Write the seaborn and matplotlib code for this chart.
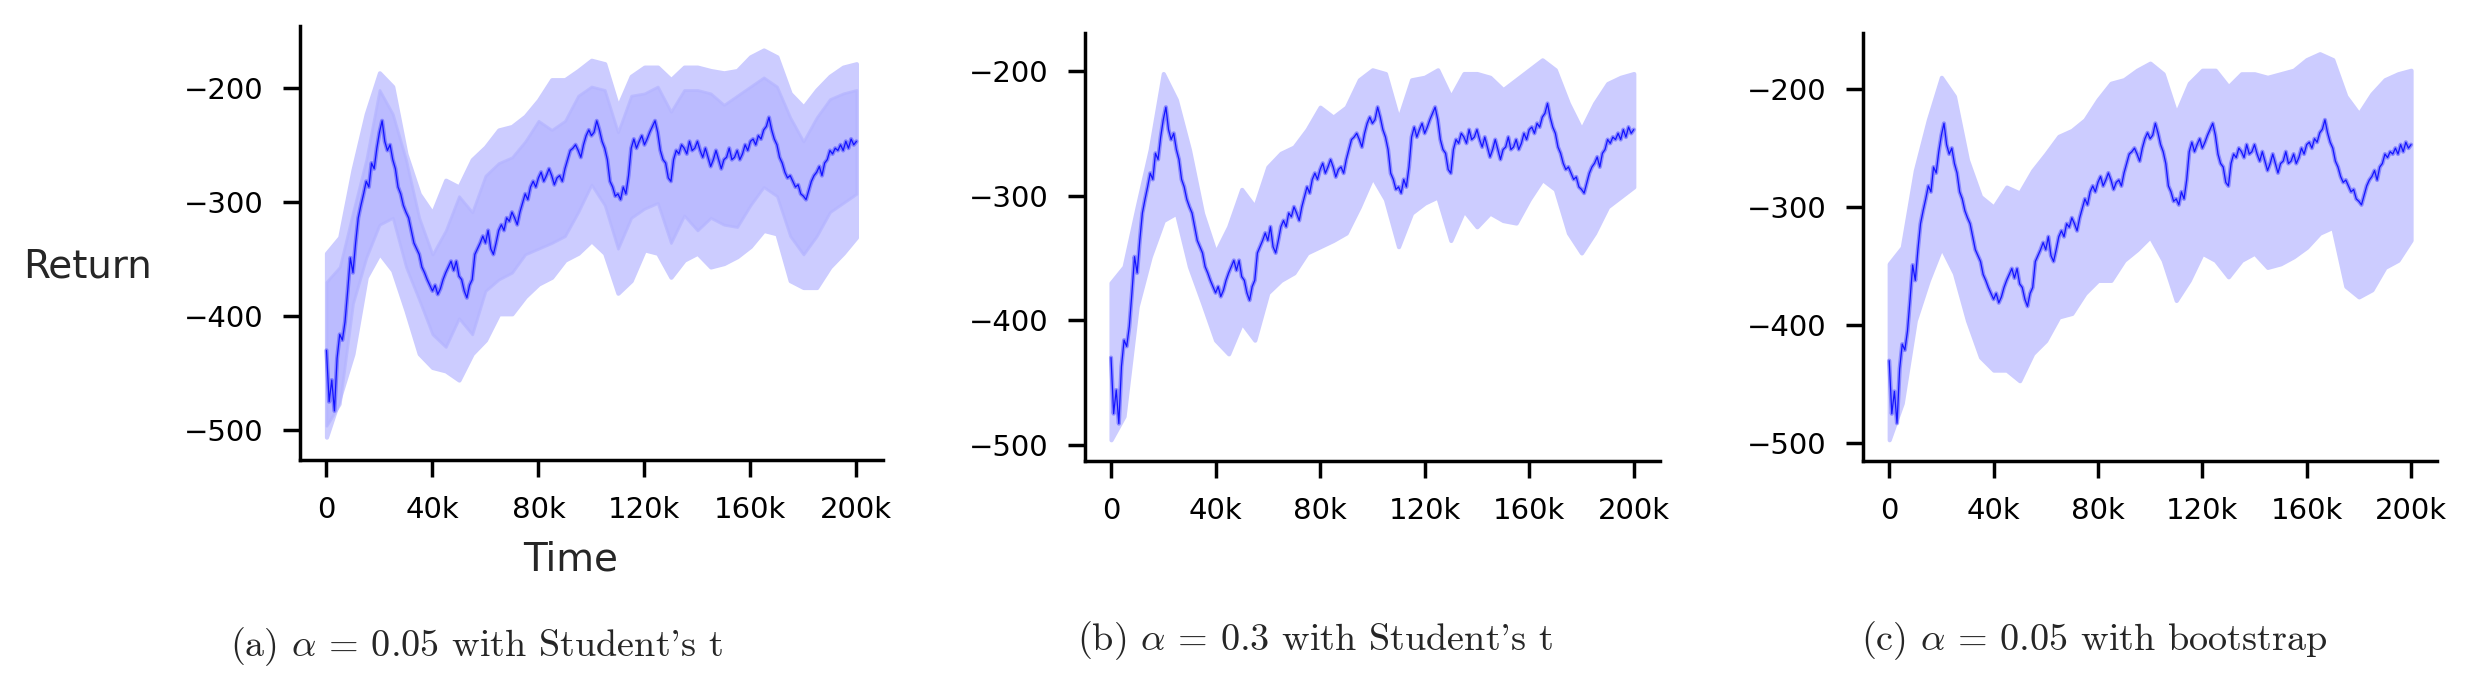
import numpy as np
import pandas as pd
import matplotlib
matplotlib.use("Agg")
import matplotlib.pyplot as plt
import seaborn as sns

# ---- data ----
# mean return, one value per 1k steps (0 .. 200k), same runs in all three panels
steps = np.arange(0, 201) * 1000
mean_return = [
    -430, -475, -456, -483, -437, -416, -421, -405, -378, -349,
    -362, -336, -314, -303, -293, -282, -287, -266, -271, -253,
    -239, -229, -247, -255, -250, -263, -271, -287, -293, -303,
    -309, -314, -325, -336, -341, -346, -357, -362, -368, -373,
    -378, -373, -381, -376, -368, -362, -357, -352, -360, -352,
    -365, -368, -378, -384, -373, -368, -346, -341, -336, -330,
    -336, -325, -341, -346, -336, -325, -320, -325, -314, -317,
    -309, -314, -320, -309, -301, -293, -298, -287, -282, -287,
    -279, -274, -282, -277, -271, -277, -285, -279, -277, -282,
    -271, -263, -255, -253, -250, -255, -261, -250, -242, -237,
    -242, -239, -229, -237, -247, -253, -263, -282, -287, -295,
    -293, -298, -287, -293, -277, -253, -245, -253, -247, -242,
    -250, -245, -239, -234, -229, -239, -255, -263, -266, -279,
    -282, -263, -255, -258, -250, -253, -258, -247, -255, -253,
    -247, -255, -261, -253, -261, -269, -263, -255, -263, -271,
    -263, -261, -253, -263, -261, -255, -263, -258, -250, -255,
    -247, -245, -250, -242, -245, -237, -234, -226, -237, -245,
    -250, -261, -266, -274, -279, -277, -282, -287, -285, -293,
    -295, -298, -290, -282, -277, -274, -269, -277, -266, -263,
    -255, -258, -253, -255, -250, -255, -247, -253, -245, -250,
    -247,
]

# confidence band edges, one value per 5k steps
band_steps = np.arange(0, 41) * 5000
# (a) alpha = 0.05, Student's t
a_upper = [-345, -331, -272, -223, -187, -199, -258, -293, -310, -281,
           -287, -263, -252, -237, -234, -225, -211, -193, -193, -185,
           -176, -179, -217, -190, -182, -182, -193, -182, -182, -185,
           -187, -185, -173, -167, -173, -205, -217, -202, -190, -182,
           -179]
a_lower = [-506, -471, -433, -366, -345, -360, -395, -433, -445, -448,
           -456, -433, -421, -398, -398, -383, -372, -366, -351, -345,
           -334, -345, -380, -369, -342, -345, -366, -351, -345, -357,
           -354, -348, -339, -325, -328, -369, -375, -375, -357, -345,
           -331]
# (b) alpha = 0.3, Student's t
b_upper = [-370, -357, -309, -263, -202, -223, -263, -314, -346, -325,
           -295, -309, -277, -266, -261, -247, -229, -237, -229, -207,
           -199, -202, -239, -207, -205, -199, -221, -202, -202, -205,
           -215, -207, -199, -191, -199, -226, -247, -226, -210, -205,
           -202]
b_lower = [-496, -477, -389, -349, -320, -314, -357, -386, -416, -427,
           -402, -416, -378, -368, -362, -346, -341, -336, -330, -309,
           -285, -303, -341, -314, -306, -301, -336, -312, -325, -314,
           -320, -322, -303, -287, -295, -330, -346, -330, -309, -301,
           -293]
# (c) alpha = 0.05, bootstrap
c_upper = [-348, -334, -269, -226, -190, -206, -260, -291, -300, -283,
           -288, -269, -255, -240, -235, -226, -209, -195, -192, -184,
           -178, -187, -221, -195, -184, -184, -198, -187, -187, -190,
           -187, -184, -175, -170, -175, -206, -221, -204, -192, -187,
           -184]
c_lower = [-497, -466, -396, -362, -334, -356, -396, -427, -438, -438,
           -447, -424, -413, -393, -390, -373, -362, -362, -345, -336,
           -325, -345, -379, -362, -339, -345, -359, -345, -339, -351,
           -348, -342, -334, -322, -317, -367, -376, -370, -351, -345,
           -328]

captions = [r"(a) $\alpha$ = 0.05 with Student's t",
            r"(b) $\alpha$ = 0.3 with Student's t",
            r"(c) $\alpha$ = 0.05 with bootstrap"]
x_ticks = [0, 40000, 80000, 120000, 160000, 200000]
x_ticklabels = ["0", "40k", "80k", "120k", "160k", "200k"]
y_ticks = [-500, -400, -300, -200]

sns.set_theme(style="ticks", context="poster")
plt.rcParams["font.family"] = ["DejaVu Sans"]
plt.rcParams["mathtext.fontset"] = "cm"

df = pd.DataFrame({"Time": steps, "Return": mean_return})

fig = plt.figure(figsize=(24.69, 6.84), dpi=100)
# axes rectangles in figure fractions
rects = [(0.1215, 0.3275, 0.2361, 0.6345),
         (0.4394, 0.3260, 0.2329, 0.6257),
         (0.7546, 0.3260, 0.2325, 0.6257)]
ylims = [(-526, -146), (-513, -169.5), (-515, -152.5)]
bands = [(a_lower, a_upper), (b_lower, b_upper), (c_lower, c_upper)]

band_col = "#ccccff"
inner_col = "#b4b4ff"

axes = []
for i, r in enumerate(rects):
    ax = fig.add_axes(r)
    lo, hi = bands[i]
    ax.fill_between(band_steps, lo, hi, color=band_col, edgecolor=band_col,
                    linewidth=3, zorder=1)
    if i == 0:
        # darker inner band where the narrower interval overlaps
        ax.fill_between(band_steps, b_lower, b_upper, color=inner_col,
                        edgecolor=inner_col, linewidth=2, alpha=0.7, zorder=2)
    # wide soft stroke + thin core to mimic the dense noisy mean trace
    sns.lineplot(data=df, x="Time", y="Return", ax=ax, color="#3c3cff",
                 linewidth=3.0, alpha=0.45, estimator=None, zorder=3)
    sns.lineplot(data=df, x="Time", y="Return", ax=ax, color="#0000ff",
                 linewidth=0.9, alpha=0.85, estimator=None, zorder=4)
    ax.set_xlim(-10000, 210000)
    ax.set_ylim(*ylims[i])
    ax.set_xticks(x_ticks)
    ax.set_xticklabels(x_ticklabels)
    ax.set_yticks(y_ticks)
    ax.tick_params(axis="both", labelsize=21, length=12, width=2.5, pad=14,
                   color="black", labelcolor="black")
    for s in ["left", "bottom"]:
        ax.spines[s].set_linewidth(2.5)
        ax.spines[s].set_color("black")
    sns.despine(ax=ax)
    ax.set_xlabel("")
    ax.set_ylabel("")
    axes.append(ax)

axes[0].set_xlabel("Time", fontsize=28)
axes[0].set_ylabel("Return", fontsize=28, rotation=0, ha="center", va="center")
axes[0].yaxis.set_label_coords(-0.364, 0.445)
axes[0].xaxis.set_label_coords(0.465, -0.185)

cap_pos = [(0.1928, 0.054), (0.5326, 0.064), (0.8481, 0.064)]
for (cx, cy), txt in zip(cap_pos, captions):
    fig.text(cx, cy, txt, ha="center", va="center", fontsize=27.5,
             family="cmr10")

fig.savefig("out.png", dpi=100)
